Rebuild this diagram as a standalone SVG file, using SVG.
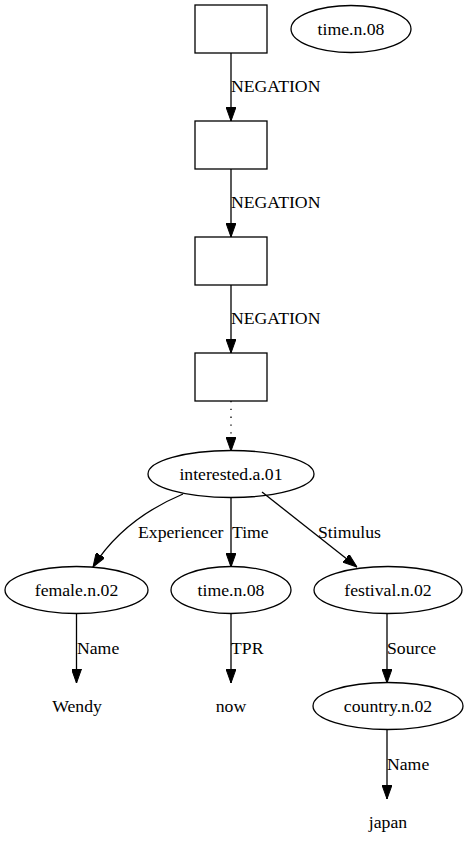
<svg xmlns="http://www.w3.org/2000/svg" width="466" height="852" viewBox="0 0 466 852" font-family="'Liberation Serif', 'Times New Roman', Times, serif" font-size="17.7">
<defs>
<marker id="arr" markerWidth="14" markerHeight="10" refX="14" refY="5" orient="auto" markerUnits="userSpaceOnUse">
<path d="M0,0 L14,5 L0,10 Z" fill="#000" stroke="#000" stroke-width="1"/>
</marker>
</defs>
<style>
text{font-family:'Liberation Serif','Times New Roman',Times,serif;font-size:17.7px;fill:#000}
.n{fill:none;stroke:#000;stroke-width:1.3}
.c{text-anchor:middle}
.e{fill:none;stroke:#000;stroke-width:1.3;marker-end:url(#arr)}
.d{stroke-dasharray:1.3,6.5}
</style>
<rect width="466" height="852" fill="#fff"/>
<g id="box1"><rect class="n" x="195" y="5" width="72" height="48"/></g>
<g id="time_top"><ellipse class="n" cx="351" cy="29" rx="60" ry="23.5"/><text class="c" x="351" y="35">time.n.08</text></g>
<g id="box2"><rect class="n" x="195" y="121" width="72" height="48"/></g>
<g id="box3"><rect class="n" x="195" y="237" width="72" height="48"/></g>
<g id="box4"><rect class="n" x="195" y="353" width="72" height="48"/></g>
<g id="interested"><ellipse class="n" cx="231" cy="474" rx="83" ry="23.5"/><text class="c" x="231" y="480">interested.a.01</text></g>
<g id="female"><ellipse class="n" cx="76.5" cy="590" rx="71.5" ry="23.5"/><text class="c" x="76.5" y="596">female.n.02</text></g>
<g id="time"><ellipse class="n" cx="231" cy="590" rx="60" ry="23.5"/><text class="c" x="231" y="596">time.n.08</text></g>
<g id="festival"><ellipse class="n" cx="388" cy="590" rx="74" ry="23.5"/><text class="c" x="388" y="596">festival.n.02</text></g>
<g id="wendy"><text class="c" x="77" y="712">Wendy</text></g>
<g id="now"><text class="c" x="231" y="712">now</text></g>
<g id="country"><ellipse class="n" cx="388" cy="706" rx="75" ry="23.5"/><text class="c" x="388" y="712">country.n.02</text></g>
<g id="japan"><text class="c" x="388" y="828">japan</text></g>
<g id="edges">
<path class="e" d="M231,53 L231,121"/>
<text x="231" y="92">NEGATION</text>
<path class="e" d="M231,169 L231,237"/>
<text x="231" y="208">NEGATION</text>
<path class="e" d="M231,285 L231,353"/>
<text x="231" y="324">NEGATION</text>
<path class="e d" d="M231,401 L231,451"/>
<path class="e" d="M183,494 C145,510 115,532 93,567"/>
<text x="138" y="538">Experiencer</text>
<path class="e" d="M231,497.5 L231,567"/>
<text x="232" y="538">Time</text>
<path class="e" d="M262,492 L357,567"/>
<text x="318" y="538">Stimulus</text>
<path class="e" d="M76.5,613.5 L76.5,683"/>
<text x="77" y="654">Name</text>
<path class="e" d="M231,613.5 L231,683"/>
<text x="231" y="654">TPR</text>
<path class="e" d="M387,613.5 L387,683"/>
<text x="387" y="654">Source</text>
<path class="e" d="M387,729.5 L387,799"/>
<text x="387" y="770">Name</text>
</g>
</svg>
